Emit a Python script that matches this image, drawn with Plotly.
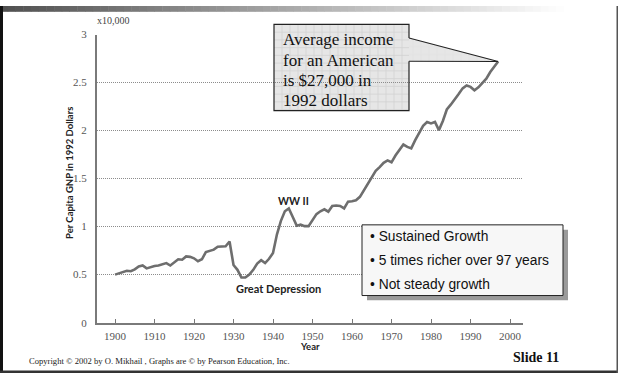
import plotly.graph_objects as go

# Per-capita GNP, 1992 dollars, in units of $10,000
years = list(range(1900, 1998))
gnp = [
    0.50, 0.515, 0.53, 0.54, 0.535, 0.555, 0.585, 0.595, 0.565, 0.58,
    0.59, 0.595, 0.605, 0.62, 0.595, 0.625, 0.66, 0.655, 0.69, 0.685,
    0.67, 0.64, 0.66, 0.735, 0.75, 0.76, 0.79, 0.79, 0.795, 0.845,
    0.60, 0.55, 0.47, 0.47, 0.50, 0.55, 0.615, 0.65, 0.62, 0.665,
    0.725, 0.92, 1.06, 1.16, 1.19, 1.10, 1.01, 1.02, 1.005, 1.005,
    1.07, 1.13, 1.16, 1.18, 1.155, 1.215, 1.22, 1.215, 1.19, 1.26,
    1.265, 1.275, 1.31, 1.38, 1.45, 1.52, 1.58, 1.62, 1.665, 1.69,
    1.67, 1.74, 1.80, 1.855, 1.83, 1.815, 1.90, 1.98, 2.05, 2.09,
    2.075, 2.09, 2.005, 2.10, 2.22, 2.27, 2.32, 2.38, 2.44, 2.47,
    2.455, 2.42, 2.45, 2.49, 2.54, 2.61, 2.67, 2.72,
]
x_ticks = [1900, 1910, 1920, 1930, 1940, 1950, 1960, 1970, 1980, 1990, 2000]
y_ticks = [0, 0.5, 1, 1.5, 2, 2.5, 3]
y_tick_text = ["0", "0.5", "1", "1.5", "2", "2.5", "3"]
callout_lines = ["Average income", "for an American", "is $27,000 in", "1992 dollars"]
bullets = ["• Sustained Growth", "• 5 times richer over 97 years", "• Not steady growth"]

W, H = 618, 379
# plot box in pixels
PX0, PX1, PY0, PY1 = 97, 523, 327, 29.5
XR = [1895.44, 2003.29]
YR = [0, 3]


def px(x):
    return x / W


def py(y):
    return 1 - y / H


def to_data(xp, yp):
    xd = XR[0] + (xp - PX0) / (PX1 - PX0) * (XR[1] - XR[0])
    yd = YR[0] + (PY0 - yp) / (PY0 - PY1) * (YR[1] - YR[0])
    return xd, yd


serif = "Liberation Serif, Times New Roman, serif"
sans = "Liberation Sans, Arial, sans-serif"
label_font = "Lato, Liberation Sans, sans-serif"

fig = go.Figure()

fig.add_trace(go.Scatter(
    x=years, y=gnp, mode="lines",
    line=dict(color="#6e6e6e", width=2.6),
    hoverinfo="skip", showlegend=False,
))

# callout pointer running from the box to the latest value
tip_x, tip_y = years[-1], gnp[-1]
a = to_data(409, 33)
b = to_data(409, 57)
fig.add_trace(go.Scatter(
    x=[a[0], tip_x, b[0]], y=[a[1], tip_y, b[1]], mode="lines", fill="toself",
    fillcolor="#e4e4e4",
    fillpattern=dict(shape="+", size=8, solidity=0.08, fgcolor="#cdcdcd", bgcolor="#e6e6e6"),
    line=dict(color="#222222", width=1.1),
    hoverinfo="skip", showlegend=False,
))

shapes = []
# top gradient bar
n = 80
for i in range(n):
    t = i / (n - 1)
    v = int(round(0x50 + (0xff - 0x50) * min(1.0, t / 0.92)))
    shapes.append(dict(type="rect", xref="paper", yref="paper",
                       x0=px(i * W / n), x1=px((i + 1) * W / n + 0.5),
                       y0=py(6), y1=py(0),
                       fillcolor=f"rgb({v},{v},{v})", line=dict(width=0)))
# frame
shapes.append(dict(type="rect", xref="paper", yref="paper", x0=0, x1=px(3), y0=0, y1=1,
                   fillcolor="#111111", line=dict(width=0)))
shapes.append(dict(type="rect", xref="paper", yref="paper", x0=0, x1=1, y0=py(379), y1=py(376.5),
                   fillcolor="#333333", line=dict(width=0)))
shapes.append(dict(type="rect", xref="paper", yref="paper", x0=px(616.5), x1=1, y0=0, y1=1,
                   fillcolor="#555555", line=dict(width=0)))

# callout box: fill, fine grid, and border open where the pointer joins
BX0, BX1, BY0, BY1 = 274, 409, 19, 108
shapes.append(dict(type="rect", xref="paper", yref="paper", layer="between",
                   x0=px(BX0), x1=px(BX1), y0=py(BY1), y1=py(BY0),
                   fillcolor="#e6e6e6", line=dict(width=0)))
gx = BX0 + 8
while gx < BX1:
    shapes.append(dict(type="line", xref="paper", yref="paper", layer="between",
                       x0=px(gx), x1=px(gx), y0=py(BY1), y1=py(BY0),
                       line=dict(color="#d2d2d2", width=0.8)))
    gx += 8
gy = BY0 + 8
while gy < BY1:
    shapes.append(dict(type="line", xref="paper", yref="paper", layer="between",
                       x0=px(BX0), x1=px(BX1), y0=py(gy), y1=py(gy),
                       line=dict(color="#d2d2d2", width=0.8)))
    gy += 8
shapes.append(dict(type="path", xref="paper", yref="paper",
                   path=(f"M {px(BX1)},{py(33)} L {px(BX1)},{py(BY0)} L {px(BX0)},{py(BY0)} "
                         f"L {px(BX0)},{py(BY1)} L {px(BX1)},{py(BY1)} L {px(BX1)},{py(57)}"),
                   line=dict(color="#222222", width=1.2)))

# bullet box with drop shadow
shapes.append(dict(type="rect", xref="paper", yref="paper",
                   x0=px(367), x1=px(568), y0=py(304), y1=py(231),
                   fillcolor="#9a9a9a", line=dict(width=0)))
shapes.append(dict(type="rect", xref="paper", yref="paper",
                   x0=px(362), x1=px(563), y0=py(299), y1=py(226),
                   fillcolor="#f7f7f7", line=dict(color="#222222", width=1)))

annotations = []
for txt, yc in zip(callout_lines, [35, 56, 76.5, 97.3]):
    annotations.append(dict(text=txt, xref="paper", yref="paper", x=px(281), y=py(yc),
                            xanchor="left", yanchor="middle", showarrow=False,
                            font=dict(family=serif, size=17, color="#111111")))
for txt, yc in zip(bullets, [238, 263, 288]):
    annotations.append(dict(text=txt, xref="paper", yref="paper", x=px(368), y=py(yc),
                            xanchor="left", yanchor="middle", showarrow=False,
                            font=dict(family=sans, size=13.8, color="#111111")))

annotations += [
    dict(text="<b>WW II</b>", x=1945.2, y=1.27, xref="x", yref="y", yanchor="middle",
         showarrow=False, font=dict(family=label_font, size=10.5, color="#222222")),
    dict(text="<b>Great Depression</b>", x=1941.5, y=0.354, xref="x", yref="y",
         yanchor="middle", showarrow=False,
         font=dict(family=label_font, size=11, color="#222222")),
    dict(text="x10,000", xref="paper", yref="paper", x=px(95), y=py(15), xanchor="left",
         yanchor="middle", showarrow=False, font=dict(family=serif, size=10, color="#444444")),
    dict(text="<b>Year</b>", xref="paper", yref="paper", x=px(310), y=py(352),
         yanchor="middle", showarrow=False, font=dict(family=label_font, size=9.5, color="#222222")),
    dict(text="<b>Per Capita GNP in 1992 Dollars</b>", xref="paper", yref="paper",
         x=px(62), y=py(173), textangle=-90, showarrow=False,
         font=dict(family=label_font, size=9.5, color="#222222")),
    dict(text="Copyright © 2002 by O. Mikhail , Graphs are © by Pearson Education, Inc.",
         xref="paper", yref="paper", x=px(27), y=py(367), xanchor="left", yanchor="middle",
         showarrow=False, font=dict(family=serif, size=8.6, color="#222222")),
    dict(text="<b>Slide 11</b>", xref="paper", yref="paper", x=px(561), y=py(363),
         xanchor="right", yanchor="middle", showarrow=False,
         font=dict(family=serif, size=14, color="#111111")),
]

fig.update_layout(
    width=W, height=H,
    margin=dict(l=0, r=0, t=0, b=0),
    paper_bgcolor="white", plot_bgcolor="white",
    showlegend=False,
    shapes=shapes,
    annotations=annotations,
    xaxis=dict(
        domain=[px(PX0), px(PX1)], range=XR,
        tickvals=x_ticks, ticktext=[str(v) for v in x_ticks],
        ticks="inside", ticklen=4, tickwidth=1, tickcolor="#777777",
        showline=True, linecolor="#7a7a7a", linewidth=1.6,
        showgrid=False, zeroline=False,
        tickfont=dict(family=serif, size=11, color="#555555"),
        ticklabelstandoff=2,
    ),
    yaxis=dict(
        domain=[py(PY0), py(PY1)], range=YR,
        tickvals=y_ticks, ticktext=y_tick_text,
        ticks="", showline=True, linecolor="#7a7a7a", linewidth=2,
        showgrid=True, gridcolor="#8c8c8c", gridwidth=1, griddash="1px,1px",
        zeroline=False,
        tickfont=dict(family=serif, size=11, color="#555555"),
        ticklabelstandoff=6,
    ),
)

fig.write_html("out.html")
